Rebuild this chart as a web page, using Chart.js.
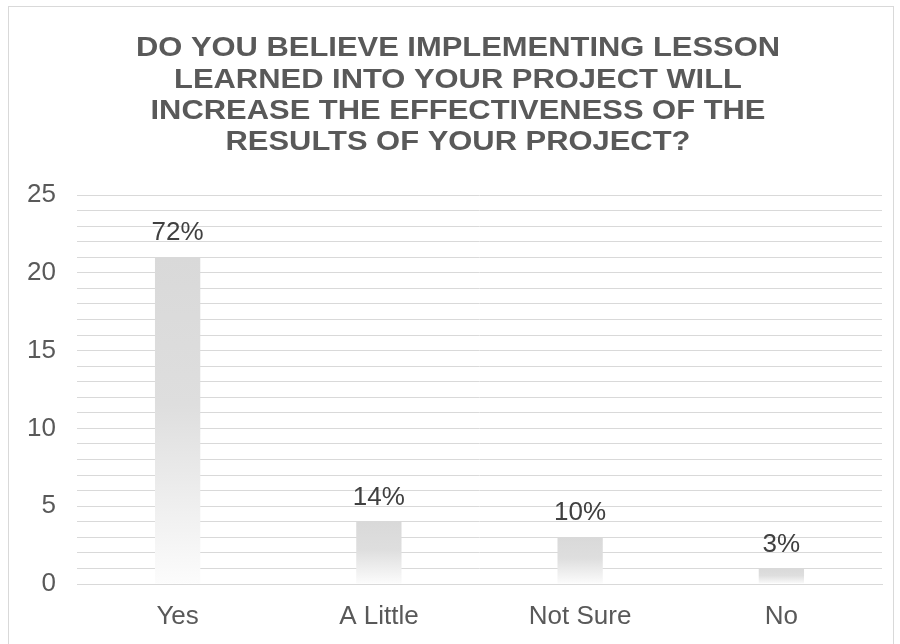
<!DOCTYPE html>
<html lang="en">
  <head>
    <meta charset="utf-8">
    <title>Lessons learned survey</title>
    <script src="https://cdn.jsdelivr.net/npm/chart.js@4.4.1/dist/chart.umd.min.js"></script>
    <style>
      body { margin: 0; background: #fff; }
      #wrap { position: absolute; left: 0; top: 0; width: 900px; height: 644px; }
      #frame { position: absolute; left: 8px; top: 6px; width: 884px; height: 700px; border: 1px solid #d9d9d9; pointer-events: none; }
    </style>
  </head>
  <body>
    <div id="wrap">
      <canvas id="bar-chart" width="900" height="644"></canvas>
    </div>
    <div id="frame"></div>

    <script>
    // survey answers (count of respondents) and the share shown above each bar
    var categories = ["Yes", "A Little", "Not Sure", "No"];
    var counts = [21, 4, 3, 1];
    var shares = ["72%", "14%", "10%", "3%"];
    var titleLines = [
      "DO YOU BELIEVE IMPLEMENTING LESSON",
      "LEARNED INTO YOUR PROJECT WILL",
      "INCREASE THE EFFECTIVENESS OF THE",
      "RESULTS OF YOUR PROJECT?"
    ];

    var fontName = "'Liberation Sans', Arial, sans-serif";

    // fills each bar with a grey that fades to white at the base
    function barFill(ctx) {
      var chart = ctx.chart;
      var yScale = chart.scales.y;
      if (!chart.chartArea || !yScale || ctx.dataIndex === undefined) return "#d9d9d9";
      var top = yScale.getPixelForValue(counts[ctx.dataIndex]);
      var bottom = yScale.getPixelForValue(0);
      var g = chart.ctx.createLinearGradient(0, top, 0, bottom);
      g.addColorStop(0, "#d9d9d9");
      g.addColorStop(0.45, "#dedede");
      g.addColorStop(1, "#fcfcfc");
      return g;
    }

    // title block, drawn by hand: the original has wide, squat capitals
    var titleBlock = {
      id: "titleBlock",
      afterDraw: function(chart) {
        var c = chart.ctx;
        var stretch = 1.145;
        c.save();
        c.scale(stretch, 1);
        c.font = "bold 27px " + fontName;
        c.fillStyle = "#595959";
        c.textAlign = "center";
        c.textBaseline = "middle";
        titleLines.forEach(function(line, i) {
          c.fillText(line, 458 / stretch, 49 + i * 31.3);
        });
        c.restore();
      }
    };

    // writes the percentages above the bars
    var shareLabels = {
      id: "shareLabels",
      afterDatasetsDraw: function(chart) {
        var c = chart.ctx;
        var meta = chart.getDatasetMeta(0);
        c.save();
        c.font = "26px " + fontName;
        c.fillStyle = "#404040";
        c.textAlign = "center";
        c.textBaseline = "middle";
        meta.data.forEach(function(bar, i) {
          c.fillText(shares[i], bar.x, bar.y - 24);
        });
        c.restore();
      }
    };

    new Chart(document.getElementById("bar-chart"), {
      type: "bar",
      data: {
        labels: categories,
        datasets: [{
          label: "Answers",
          data: counts,
          backgroundColor: barFill,
          barPercentage: 0.9,
          categoryPercentage: 0.25
        }]
      },
      options: {
        responsive: false,
        animation: false,
        layout: { padding: { left: 20, right: 18, top: 195, bottom: 0 } },
        plugins: {
          legend: { display: false },
          tooltip: { enabled: false },
          title: { display: false }
        },
        scales: {
          x: {
            afterFit: function(scale) { scale.height = 60; },
            grid: { display: false, drawTicks: false },
            border: { display: true, color: "#d9d9d9", width: 1 },
            ticks: { color: "#595959", font: { family: fontName, size: 26 }, padding: 17 }
          },
          y: {
            min: 0,
            max: 25,
            afterFit: function(scale) { scale.width = 57; },
            border: { display: false },
            grid: { color: "#d9d9d9", drawTicks: false },
            ticks: {
              stepSize: 1,
              autoSkip: false,
              padding: 21,
              color: "#595959",
              font: { family: fontName, size: 26 },
              callback: function(v) { return v % 5 === 0 ? v : ""; }
            }
          }
        }
      },
      plugins: [shareLabels, titleBlock]
    });
    </script>
  </body>
</html>
